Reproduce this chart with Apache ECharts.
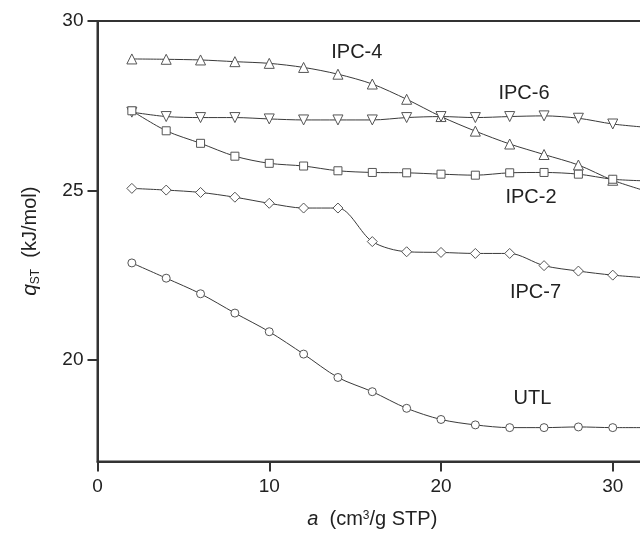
<!DOCTYPE html>
<html>
<head>
<meta charset="utf-8">
<script src="https://cdn.jsdelivr.net/npm/echarts@6/dist/echarts.min.js"></script>
<style>
  html, body { margin: 0; padding: 0; background: #fff; }
  #main { width: 640px; height: 548px; }
</style>
</head>
<body>
<div id="main"></div>
<script>
// loading a (cm3/g STP)
var loading = [2, 4, 6, 8, 10, 12, 14, 16, 18, 20, 22, 24, 26, 28, 30, 32]

// isosteric heat q_ST (kJ/mol)
var ipc4 = [28.88, 28.87, 28.85, 28.80, 28.75, 28.63, 28.43, 28.14, 27.69, 27.18, 26.75, 26.37, 26.06, 25.75, 25.30, 24.97]
var ipc6 = [27.31, 27.18, 27.15, 27.15, 27.11, 27.08, 27.08, 27.08, 27.15, 27.18, 27.15, 27.18, 27.20, 27.13, 26.96, 26.86]
var ipc2 = [27.35, 26.76, 26.39, 26.01, 25.80, 25.72, 25.58, 25.53, 25.52, 25.48, 25.45, 25.52, 25.53, 25.48, 25.33, 25.28]
var ipc7 = [25.06, 25.01, 24.94, 24.80, 24.62, 24.48, 24.48, 23.49, 23.19, 23.17, 23.14, 23.14, 22.78, 22.62, 22.50, 22.42]
var utl = [22.86, 22.41, 21.95, 21.38, 20.83, 20.17, 19.48, 19.06, 18.57, 18.24, 18.08, 18.00, 18.00, 18.02, 18.00, 18.00]

var xTicks = [0, 10, 20, 30]
var yTicks = [20, 25, 30]

var font = 'Liberation Sans, Arial, sans-serif'
var ink = '#222'

function pairs (ys) {
  return loading.map(function (x, i) { return [x, ys[i]] })
}

function makeSeries (name, ys, symbol, size, rotate, labelAt) {
  return {
    name: name,
    type: 'line',
    data: pairs(ys),
    smooth: 0.3,
    symbol: symbol,
    symbolSize: size,
    symbolRotate: rotate,
    showAllSymbol: true,
    lineStyle: { color: '#3a3a3a', width: 1 },
    itemStyle: { color: '#fff', borderColor: '#555', borderWidth: 1 },
    emphasis: { disabled: true },
    markPoint: {
      symbol: 'circle',
      symbolSize: 0,
      silent: true,
      label: {
        show: true,
        position: 'inside',
        formatter: name,
        color: ink,
        fontFamily: font,
        fontSize: 20
      },
      data: [{ coord: labelAt }]
    }
  }
}

var myChart = echarts.init(document.getElementById('main'))

var option = {
  animation: false,
  backgroundColor: '#fff',
  grid: {
    left: 97.5,
    top: 21,
    right: -7.1,
    bottom: 86.5,
    outerBoundsMode: 'none',
    containLabel: false,
    show: true,
    borderColor: '#333',
    borderWidth: 2
  },
  xAxis: {
    type: 'value',
    min: 0,
    max: 32,
    name: '{i|a}{n|  (cm}{sup|3}{n|/g STP)}',
    nameLocation: 'middle',
    nameGap: 48,
    nameTextStyle: {
      rich: {
        i: { fontFamily: font, fontSize: 20, fontStyle: 'italic', color: ink },
        n: { fontFamily: font, fontSize: 20, color: ink },
        sup: { fontFamily: font, fontSize: 12, color: ink, verticalAlign: 'top', padding: [0, 0, 8, 0] }
      }
    },
    axisLine: { show: true, lineStyle: { color: '#333', width: 2 } },
    axisTick: { show: true, inside: false, length: 10, customValues: xTicks, lineStyle: { color: '#333', width: 2 } },
    axisLabel: { customValues: xTicks, margin: 16, fontFamily: font, fontSize: 19, color: ink },
    splitLine: { show: false }
  },
  yAxis: {
    type: 'value',
    min: 17,
    max: 30,
    name: '{i|q}{sub|ST}{n|  (kJ/mol)}',
    nameLocation: 'middle',
    nameGap: 56,
    nameTextStyle: {
      rich: {
        i: { fontFamily: font, fontSize: 21, fontStyle: 'italic', color: ink },
        sub: { fontFamily: font, fontSize: 12, color: ink, padding: [10, 0, 0, 0] },
        n: { fontFamily: font, fontSize: 20, color: ink }
      }
    },
    axisLine: { show: true, lineStyle: { color: '#333', width: 2 } },
    axisTick: { show: true, inside: false, length: 10, customValues: yTicks, lineStyle: { color: '#333', width: 2 } },
    axisLabel: { customValues: yTicks, margin: 14, fontFamily: font, fontSize: 19, color: ink },
    splitLine: { show: false }
  },
  series: [
    makeSeries('IPC-4', ipc4, 'triangle', 10, 0, [15.1, 29.06]),
    makeSeries('IPC-6', ipc6, 'triangle', 10, 180, [24.83, 27.87]),
    makeSeries('IPC-2', ipc2, 'rect', 8, 0, [25.24, 24.78]),
    makeSeries('IPC-7', ipc7, 'diamond', 10, 0, [25.5, 22.0]),
    makeSeries('UTL', utl, 'circle', 8, 0, [25.32, 18.87])
  ]
}

myChart.setOption(option)
</script>
</body>
</html>
